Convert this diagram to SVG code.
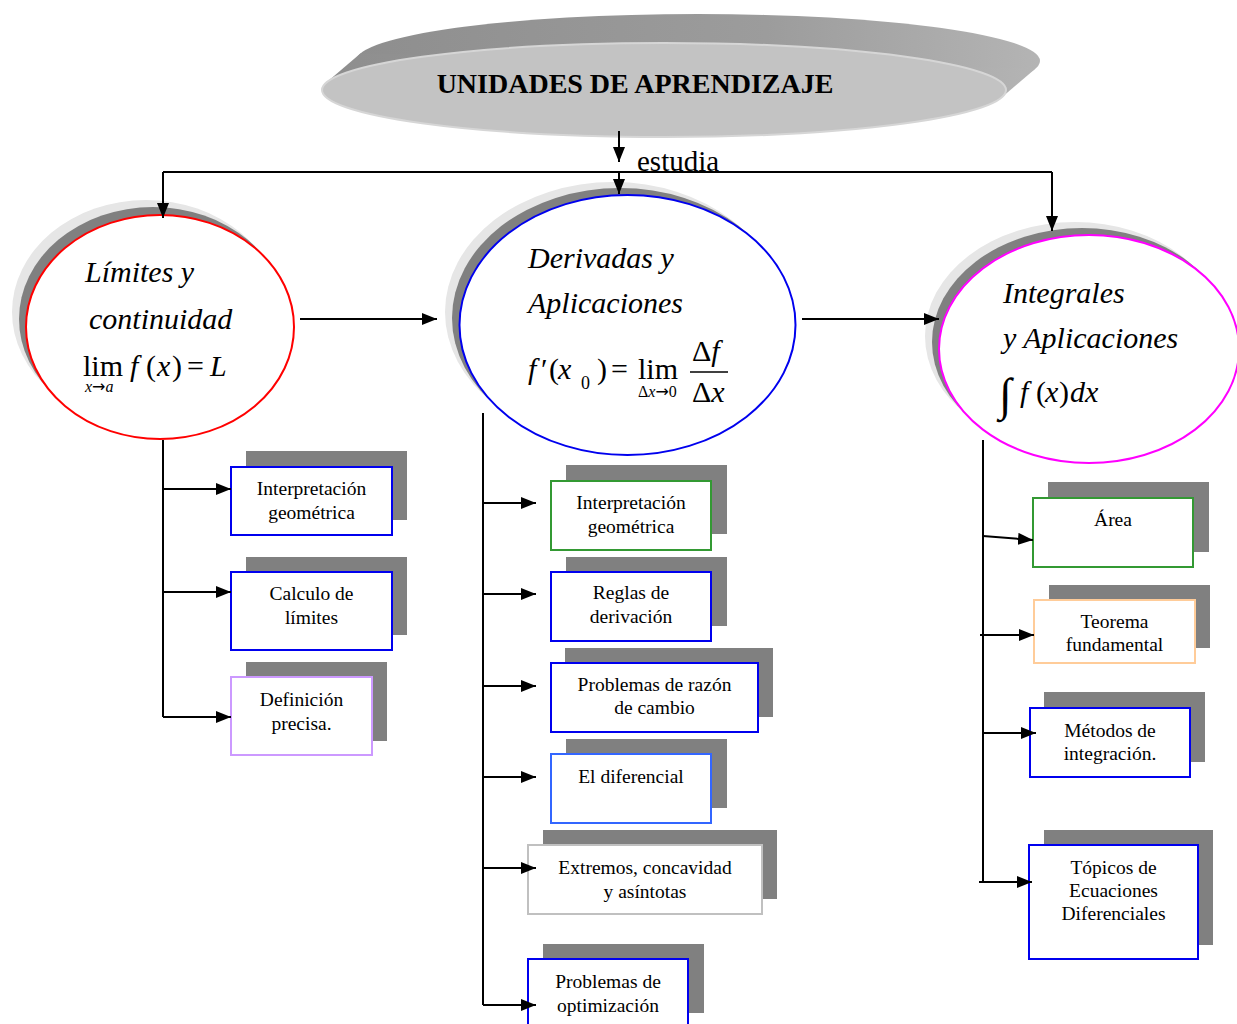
<svg xmlns="http://www.w3.org/2000/svg" width="1237" height="1024" viewBox="0 0 1237 1024">
<defs>
<marker id="ah" markerUnits="userSpaceOnUse" markerWidth="15" markerHeight="12" refX="15" refY="6" orient="auto">
<path d="M0,0 L15,6 L0,12 z" fill="#000"/>
</marker>
<linearGradient id="disc" x1="0" y1="0" x2="1" y2="0">
<stop offset="0" stop-color="#8e8e8e"/>
<stop offset="0.6" stop-color="#9c9c9c"/>
<stop offset="1" stop-color="#b4b4b4"/>
</linearGradient>
</defs>
<style>
.conn{fill:none;stroke:#000;stroke-width:2}
.arr{fill:none;stroke:#000;stroke-width:2;marker-end:url(#ah)}
.sh{fill:#808080}
.box{fill:#fff;stroke-width:2}
.bt{font-family:"Liberation Serif","Times New Roman",serif;font-size:19.5px;fill:#000;text-anchor:middle}
.et{font-family:"Liberation Serif","Times New Roman",serif;font-size:30px;font-style:italic;fill:#000}
.m{font-family:"Liberation Serif","Times New Roman",serif;font-size:30px;fill:#000}
.i{font-style:italic}
.ar{font-family:"DejaVu Sans",sans-serif;font-style:normal}
.lt{fill:#e6e6e6}
.dk{fill:#808080}
</style>

<g id="unidades">
<ellipse cx="698" cy="61" rx="342" ry="47" fill="url(#disc)"/>
<polygon points="326.4,82.5 360.4,53.5 1035.6,68.5 1001.6,97.5" fill="url(#disc)"/>
<ellipse cx="664" cy="90" rx="342" ry="47" fill="#c3c3c3" stroke="#d6d6d6" stroke-width="2"/>
<text x="635" y="93" text-anchor="middle" font-family="'Liberation Serif','Times New Roman',serif" font-size="28" font-weight="bold">UNIDADES DE APRENDIZAJE</text>
</g>

<g id="limites">
<ellipse class="lt" cx="146" cy="312" rx="134" ry="112"/>
<ellipse class="dk" cx="153" cy="319" rx="134" ry="112"/>
<ellipse cx="160" cy="327" rx="134" ry="112" fill="#fff" stroke="#ff0000" stroke-width="2"/>
<text class="et" x="85" y="282">Límites y</text>
<text class="et" x="89" y="329">continuidad</text>
<text class="m" x="83" y="376">lim</text>
<text class="m" y="376"><tspan class="i" x="130">f</tspan><tspan x="146">(</tspan><tspan class="i" x="157">x</tspan><tspan x="172">)</tspan><tspan x="187">=</tspan><tspan class="i" x="210">L</tspan></text>
<text class="m" x="85" y="392" style="font-size:16px;font-style:italic">x<tspan class="ar" style="font-size:16px">→</tspan>a</text>
</g>

<g id="derivadas">
<ellipse class="lt" cx="613" cy="312" rx="168" ry="130"/>
<ellipse class="dk" cx="620" cy="318" rx="168" ry="130"/>
<ellipse cx="627.5" cy="325" rx="168" ry="130" fill="#fff" stroke="#0000ee" stroke-width="2"/>
<text class="et" x="528" y="268">Derivadas y</text>
<text class="et" x="528" y="313">Aplicaciones</text>
<text class="m" y="379"><tspan class="i" x="528">f</tspan><tspan x="541">′</tspan><tspan x="549">(</tspan><tspan class="i" x="558">x</tspan><tspan x="597">)</tspan><tspan x="611">=</tspan><tspan x="638">lim</tspan></text>
<text class="m" x="581" y="389" style="font-size:18px">0</text>
<text class="m" x="638" y="397" style="font-size:16px">Δ<tspan class="i">x</tspan><tspan class="ar" style="font-size:16px">→</tspan>0</text>
<text class="m" x="692" y="361">Δ<tspan class="i">f</tspan></text>
<line x1="690" y1="372" x2="728" y2="372" stroke="#000" stroke-width="1.5"/>
<text class="m" x="692" y="402">Δ<tspan class="i">x</tspan></text>
</g>

<g id="integrales">
<ellipse class="lt" cx="1075" cy="336" rx="150" ry="114"/>
<ellipse class="dk" cx="1082" cy="342" rx="150" ry="114"/>
<ellipse cx="1089" cy="349" rx="150" ry="114" fill="#fff" stroke="#ff00ff" stroke-width="2"/>
<text class="et" x="1003" y="303">Integrales</text>
<text class="et" x="1003" y="348">y Aplicaciones</text>
<text class="m" x="999" y="410" style="font-size:46px">∫</text>
<text class="m" y="402"><tspan class="i" x="1020">f</tspan><tspan x="1036">(</tspan><tspan class="i" x="1045">x</tspan><tspan x="1059">)</tspan><tspan class="i" x="1070">dx</tspan></text>
</g>

<g id="lim-interp">
<rect class="sh" x="246" y="451" width="161" height="69"/>
<rect class="box" x="231" y="467" width="161" height="68" stroke="#0000ee"/>
<text class="bt" x="311.5" y="495">Interpretación</text>
<text class="bt" x="311.5" y="519">geométrica</text>
</g>
<g id="lim-calculo">
<rect class="sh" x="246" y="557" width="161" height="78"/>
<rect class="box" x="231" y="572" width="161" height="78" stroke="#0000ee"/>
<text class="bt" x="311.5" y="600">Calculo de</text>
<text class="bt" x="311.5" y="624">límites</text>
</g>
<g id="lim-def">
<rect class="sh" x="246" y="662" width="141" height="79"/>
<rect class="box" x="231" y="677" width="141" height="78" stroke="#cc99ff"/>
<text class="bt" x="301.5" y="706">Definición</text>
<text class="bt" x="301.5" y="730">precisa.</text>
</g>

<g id="der-interp">
<rect class="sh" x="566" y="465" width="161" height="69"/>
<rect class="box" x="551" y="481" width="160" height="69" stroke="#339933"/>
<text class="bt" x="631" y="509">Interpretación</text>
<text class="bt" x="631" y="533">geométrica</text>
</g>
<g id="der-reglas">
<rect class="sh" x="566" y="557" width="161" height="69"/>
<rect class="box" x="551" y="572" width="160" height="69" stroke="#0000ee"/>
<text class="bt" x="631" y="599">Reglas de</text>
<text class="bt" x="631" y="623">derivación</text>
</g>
<g id="der-razon">
<rect class="sh" x="565" y="648" width="208" height="69"/>
<rect class="box" x="551" y="663" width="207" height="69" stroke="#0000ee"/>
<text class="bt" x="654.5" y="691">Problemas de razón</text>
<text class="bt" x="654.5" y="714">de cambio</text>
</g>
<g id="der-dif">
<rect class="sh" x="566" y="739" width="161" height="69"/>
<rect class="box" x="551" y="754" width="160" height="69" stroke="#3366ff"/>
<text class="bt" x="631" y="783">El diferencial</text>
</g>
<g id="der-extremos">
<rect class="sh" x="543" y="830" width="234" height="69"/>
<rect class="box" x="528" y="845" width="234" height="69" stroke="#c0c0c0"/>
<text class="bt" x="645" y="874">Extremos, concavidad</text>
<text class="bt" x="645" y="898">y asíntotas</text>
</g>
<g id="der-optim">
<rect class="sh" x="543" y="944" width="161" height="69"/>
<rect class="box" x="528" y="959" width="160" height="80" stroke="#0000ee"/>
<text class="bt" x="608" y="988">Problemas de</text>
<text class="bt" x="608" y="1012">optimización</text>
</g>

<g id="int-area">
<rect class="sh" x="1048" y="482" width="161" height="70"/>
<rect class="box" x="1033" y="498" width="160" height="69" stroke="#339933"/>
<text class="bt" x="1113" y="526">Área</text>
</g>
<g id="int-teorema">
<rect class="sh" x="1049" y="585" width="161" height="63"/>
<rect class="box" x="1034" y="600" width="161" height="63" stroke="#ffcc99"/>
<text class="bt" x="1114.5" y="628">Teorema</text>
<text class="bt" x="1114.5" y="651">fundamental</text>
</g>
<g id="int-metodos">
<rect class="sh" x="1044" y="692" width="161" height="70"/>
<rect class="box" x="1030" y="708" width="160" height="69" stroke="#0000ee"/>
<text class="bt" x="1110" y="737">Métodos de</text>
<text class="bt" x="1110" y="760">integración.</text>
</g>
<g id="int-topicos">
<rect class="sh" x="1044" y="830" width="169" height="115"/>
<rect class="box" x="1029" y="845" width="169" height="114" stroke="#0000ee"/>
<text class="bt" x="1113.5" y="874">Tópicos de</text>
<text class="bt" x="1113.5" y="897">Ecuaciones</text>
<text class="bt" x="1113.5" y="920">Diferenciales</text>
</g>

<g id="connectors">
<path class="arr" d="M619,131 V162"/>
<path class="arr" d="M619,172 V194"/>
<path class="conn" d="M163,172 H1052"/>
<path class="arr" d="M163,172 V218"/>
<path class="arr" d="M1052,172 V231"/>
<path class="arr" d="M300,319 H437"/>
<path class="arr" d="M802,319 H939"/>
<path class="conn" d="M163,440 V717"/>
<path class="arr" d="M163,489 H231"/>
<path class="arr" d="M163,592 H231"/>
<path class="arr" d="M163,717 H231"/>
<path class="conn" d="M483,413 V1005"/>
<path class="arr" d="M483,503 H536"/>
<path class="arr" d="M483,594 H536"/>
<path class="arr" d="M483,686 H536"/>
<path class="arr" d="M483,777 H536"/>
<path class="arr" d="M483,868 H536"/>
<path class="arr" d="M483,1005 H536"/>
<path class="conn" d="M983,440 V882"/>
<path class="arr" d="M983,536 L1033,540"/>
<path class="arr" d="M980,635 H1034"/>
<path class="arr" d="M983,733 H1036"/>
<path class="arr" d="M979,882 H1032"/>
</g>
<text x="637" y="171" font-family="'Liberation Serif','Times New Roman',serif" font-size="29">estudia</text>
</svg>
